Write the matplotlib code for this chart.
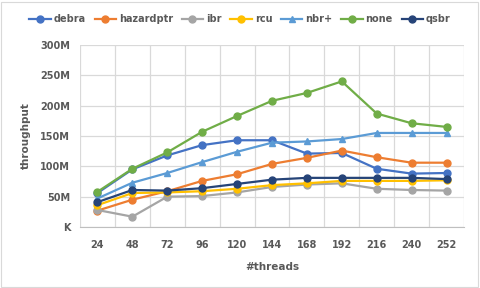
import matplotlib
matplotlib.use("Agg")
import matplotlib.pyplot as plt
from matplotlib.ticker import FixedLocator
import numpy as np

threads = ["24", "48", "72", "96", "120", "144", "168", "192", "216", "240", "252"]
debra = [56, 95, 118, 135, 143, 143, 121, 122, 96, 88, 89]
hazardptr = [27, 45, 59, 76, 87, 104, 114, 126, 115, 106, 106]
ibr = [28, 17, 50, 51, 57, 66, 70, 72, 63, 61, 60]
rcu = [36, 56, 57, 59, 63, 69, 72, 76, 76, 76, 77]
nbr_plus = [47, 73, 89, 107, 124, 139, 141, 145, 155, 155, 155]
none = [58, 96, 123, 157, 183, 208, 221, 240, 187, 171, 165]
qsbr = [41, 61, 60, 64, 71, 78, 81, 81, 81, 81, 79]

series = [
    ("debra", debra, "#4472C4", "o"),
    ("hazardptr", hazardptr, "#ED7D31", "o"),
    ("ibr", ibr, "#A5A5A5", "o"),
    ("rcu", rcu, "#FFC000", "o"),
    ("nbr+", nbr_plus, "#5B9BD5", "^"),
    ("none", none, "#70AD47", "o"),
    ("qsbr", qsbr, "#264478", "o"),
]
yticks = [0, 50, 100, 150, 200, 250, 300]
ylabels = ["K", "50M", "100M", "150M", "200M", "250M", "300M"]

plt.rcParams['font.family'] = ['DejaVu Sans']
fig = plt.figure(figsize=(4.8, 2.88), dpi=100)
ax = fig.add_axes([80/480, 1-227/288, 384/480, 182/288])
x = np.arange(len(threads))
for name, vals, col, mk in series:
    ax.plot(x, vals, color=col, marker=mk, markersize=5, linewidth=1.6, label=name)

ax.set_xlim(-0.5, len(threads)-0.5)
ax.set_ylim(0, 300)
ax.set_xticks(x)
ax.set_xticklabels(threads)
ax.set_yticks(yticks)
ax.set_yticklabels(ylabels)
ax.xaxis.set_minor_locator(FixedLocator(np.arange(-0.5, len(threads), 1.0)))
ax.grid(True, which='minor', axis='x', color='#D9D9D9', linewidth=0.9)
ax.grid(True, which='major', axis='y', color='#D9D9D9', linewidth=0.9)
ax.set_axisbelow(True)
for s in ['top', 'right', 'left']:
    ax.spines[s].set_visible(False)
ax.spines['bottom'].set_color('#BFBFBF')
ax.tick_params(which='both', length=0, labelsize=7, labelcolor='#595959')
ax.tick_params(axis='x', pad=9)
ax.tick_params(axis='y', pad=7)
for lbl in ax.get_xticklabels() + ax.get_yticklabels():
    lbl.set_fontweight('bold')
ax.set_xlabel("#threads", fontsize=7.5, color='#595959', fontweight='bold', labelpad=9)
ax.set_ylabel("throughput", fontsize=7.5, color='#595959', fontweight='bold', labelpad=7)

fig.legend(loc='center', bbox_to_anchor=(0.5, 1-19/288), ncol=7, frameon=False,
           prop={'size': 7, 'weight': 'bold'}, labelcolor='#595959',
           handlelength=2.2, handletextpad=0.3, columnspacing=0.9, markerscale=1.0)

fig.patches.append(plt.Rectangle((0.003, 0.004), 0.992, 0.99, transform=fig.transFigure,
                                 fill=False, edgecolor='#D9D9D9', linewidth=0.8))
fig.savefig("out.png", dpi=100)
